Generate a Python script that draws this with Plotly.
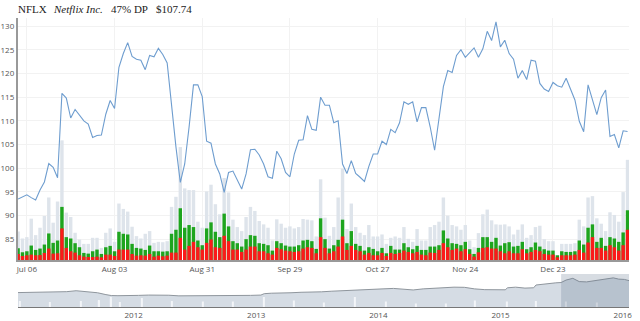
import pandas as pd
import plotly.graph_objects as go

# ---------------- data ----------------
holidays = ["2015-07-03", "2015-09-07", "2015-11-26", "2015-12-25", "2016-01-01", "2016-01-18"]
dates = [d.strftime("%Y-%m-%d") for d in pd.bdate_range("2015-07-01", "2016-01-20")
         if d.strftime("%Y-%m-%d") not in holidays]

price = [93.5, 93.9, 94.4, 93.8, 93.3, 95.4, 97.1, 101.0, 100.2, 98.0,
         115.8, 114.8, 110.6, 112.4, 111.2, 110.0, 109.3, 106.5, 106.9, 107.0,
         111.4, 114.3, 112.6, 121.3, 124.2, 126.5, 123.6, 123.0, 122.8, 120.8,
         123.8, 123.5, 125.3, 124.0, 122.2, 113.0, 104.5, 97.0, 100.9, 108.7,
         117.6, 117.6, 115.1, 105.7, 105.3, 100.9, 98.8, 94.9, 99.1, 99.4,
         97.4, 95.6, 98.8, 103.9, 104.0, 102.8, 100.9, 98.2, 97.9, 103.6,
         102.0, 99.1, 98.2, 103.0, 105.9, 106.0, 111.1, 108.2, 108.0, 115.0,
         113.3, 113.3, 109.6, 110.0, 100.9, 98.9, 101.6, 98.9, 98.1, 97.2,
         100.4, 103.0, 103.0, 105.7, 105.0, 108.2, 107.5, 109.6, 114.0, 113.5,
         114.0, 109.8, 112.8, 112.8, 108.7, 103.8, 110.5, 117.2, 120.6, 120.2,
         123.8, 125.0, 123.4, 124.3, 125.4, 123.4, 125.2, 128.9, 126.95, 130.9,
         125.6, 127.0, 124.2, 123.0, 119.0, 120.6, 118.7, 122.8, 122.6, 117.9,
         116.7, 116.2, 118.1, 117.4, 117.1, 119.0, 116.7, 114.4, 109.9, 107.7,
         117.6, 114.4, 111.3, 114.9, 116.5, 106.7, 107.1, 104.3, 107.9, 107.74]

vol_total = [17.0, 12.8, 13.6, 24.6, 14.8, 19.2, 26.2, 37.2, 22.2, 34.8,
             71.2, 28.2, 25.6, 16.2, 12.2, 9.6, 9.6, 13.2, 13.2, 7.2,
             16.2, 18.8, 10.8, 33.6, 30.4, 28.8, 19.8, 14.2, 12.8, 15.6,
             17.2, 10.2, 10.8, 10.6, 11.2, 31.6, 37.6, 67.2, 42.6, 41.6,
             41.6, 22.8, 19.2, 40.8, 44.8, 33.2, 27.2, 48.8, 40.2, 24.0,
             19.6, 17.2, 25.6, 31.6, 29.2, 23.2, 21.2, 19.2, 11.6, 24.2,
             21.6, 19.2, 20.0, 18.8, 19.6, 24.4, 24.0, 23.6, 14.0, 48.0,
             25.2, 14.4, 19.6, 37.2, 54.4, 18.4, 33.6, 19.6, 16.2, 14.8,
             20.8, 14.0, 14.0, 15.2, 9.6, 13.2, 14.0, 13.2, 19.6, 12.6,
             10.8, 18.4, 11.6, 11.6, 19.6, 20.8, 22.8, 37.2, 26.4, 20.8,
             20.0, 18.0, 20.8, 11.6, 7.6, 16.0, 27.2, 30.0, 23.6, 21.2,
             21.0, 21.2, 20.0, 15.2, 18.0, 21.2, 13.2, 14.8, 19.6, 20.4,
             12.4, 11.2, 11.2, 2.8, 9.6, 9.6, 9.6, 10.0, 24.0, 20.0,
             37.2, 38.0, 24.8, 21.6, 17.2, 28.4, 26.8, 22.8, 40.4, 59.6]

vol_green = [7.0, 4.6, 5.2, 8.6, 6.0, 6.8, 9.2, 15.8, 10.2, 11.6,
             31.6, 13.6, 12.8, 10.0, 7.6, 4.2, 3.8, 5.2, 6.2, 3.6,
             7.6, 8.4, 5.2, 16.8, 15.6, 15.2, 9.6, 7.2, 6.8, 6.0,
             8.6, 5.2, 5.2, 5.0, 5.2, 15.6, 18.0, 30.8, 19.2, 20.8,
             19.6, 11.6, 8.8, 18.8, 22.4, 16.8, 13.6, 27.6, 20.0, 11.2,
             10.0, 8.0, 12.4, 14.8, 14.4, 10.0, 9.6, 8.8, 5.6, 11.2,
             10.0, 8.6, 8.0, 8.0, 8.8, 11.6, 12.0, 11.2, 6.6, 24.8,
             12.4, 6.8, 8.8, 12.0, 24.0, 10.0, 17.2, 9.6, 8.4, 5.6,
             7.6, 6.6, 5.2, 7.2, 4.0, 8.4, 6.2, 6.2, 10.0, 7.6,
             6.4, 8.4, 6.0, 6.0, 8.0, 8.0, 8.8, 17.6, 12.8, 10.0,
             9.6, 8.8, 10.8, 6.4, 3.6, 7.2, 13.6, 13.6, 10.8, 13.2,
             8.6, 10.0, 10.6, 8.0, 8.4, 10.8, 6.4, 7.6, 10.4, 8.0,
             6.4, 5.6, 5.6, 2.8, 5.2, 4.8, 4.8, 5.2, 11.6, 9.2,
             19.2, 21.2, 10.8, 13.2, 8.4, 13.6, 12.8, 10.8, 16.4, 29.6]

vol_red = [3.6, 2.4, 2.8, 3.2, 2.8, 3.0, 4.2, 6.8, 3.8, 4.0,
           18.8, 7.2, 5.2, 4.4, 2.8, 2.0, 1.8, 1.8, 2.0, 1.6,
           3.2, 3.2, 2.4, 6.2, 6.2, 6.2, 3.6, 2.6, 2.8, 2.6,
           3.6, 2.0, 2.6, 2.2, 2.6, 4.4, 4.4, 13.2, 6.2, 8.4,
           10.8, 7.6, 6.2, 10.2, 12.2, 7.6, 7.2, 14.4, 11.2, 6.2,
           6.2, 4.8, 6.2, 8.0, 8.0, 5.2, 5.2, 4.0, 3.2, 7.2,
           6.4, 5.6, 5.2, 4.8, 5.2, 6.8, 7.6, 7.2, 4.0, 13.6,
           7.2, 4.0, 5.2, 8.0, 14.0, 6.0, 8.4, 6.0, 5.2, 3.2,
           4.2, 2.8, 2.8, 4.2, 2.4, 4.2, 3.6, 4.2, 5.6, 4.8,
           4.0, 4.8, 3.2, 2.8, 4.4, 4.2, 6.0, 10.0, 7.6, 6.0,
           6.8, 5.2, 6.4, 3.6, 2.0, 4.6, 7.2, 7.6, 6.8, 6.8,
           5.2, 4.0, 5.2, 4.0, 4.0, 6.4, 4.0, 4.8, 6.0, 5.2,
           3.6, 3.2, 3.2, 1.6, 2.8, 2.8, 2.8, 3.2, 6.0, 4.4,
           10.4, 13.6, 7.2, 7.2, 5.6, 8.8, 7.6, 5.6, 8.8, 18.0]

tick_idx = [2, 22, 42, 62, 82, 102, 122]
tick_text = ["Jul 06", "Aug 03", "Aug 31", "Sep 29", "Oct 27", "Nov 24", "Dec 23"]
price_ticks = [85, 90, 95, 100, 105, 110, 115, 120, 125, 130]

# navigator (5-year overview), monthly closes
nav_dates = ["2011-01-20", "2011-02-15", "2011-03-15", "2011-04-15", "2011-05-15", "2011-06-15",
             "2011-07-13", "2011-08-15", "2011-09-15", "2011-10-10", "2011-10-26", "2011-11-15",
             "2011-12-15", "2012-01-15", "2012-02-15", "2012-03-15", "2012-04-15", "2012-05-15",
             "2012-06-15", "2012-07-15", "2012-08-15", "2012-09-15", "2012-10-15", "2012-11-15",
             "2012-12-15", "2013-01-15", "2013-01-25", "2013-02-15", "2013-03-15", "2013-04-15",
             "2013-05-15", "2013-06-15", "2013-07-15", "2013-08-15", "2013-09-15", "2013-10-15",
             "2013-11-15", "2013-12-15", "2014-01-15", "2014-02-15", "2014-03-15", "2014-04-15",
             "2014-05-15", "2014-06-15", "2014-07-15", "2014-08-15", "2014-09-15", "2014-10-15",
             "2014-11-15", "2014-12-15", "2015-01-15", "2015-01-22", "2015-02-15", "2015-03-15",
             "2015-04-10", "2015-04-17", "2015-05-15", "2015-06-15", "2015-07-01", "2015-07-16",
             "2015-08-05", "2015-08-24", "2015-09-15", "2015-10-15", "2015-11-15", "2015-12-04",
             "2015-12-20", "2016-01-06", "2016-01-20"]
nav_price = [31, 32, 33, 34, 36, 37,
             43, 37, 30, 18, 12, 11,
             10, 13, 15, 16, 14, 10,
             10, 11, 10, 9, 11, 11,
             13, 15, 24, 27, 27, 30,
             33, 33, 36, 40, 44, 47,
             50, 52, 55, 58, 54, 48,
             55, 60, 62, 66, 65, 55,
             50, 50, 49, 62, 66, 60,
             62, 80, 88, 94, 96, 112,
             123, 102, 100, 108, 120, 126,
             118, 116, 108]

# navigator volume spikes (millions of shares)
spike_dates = ["2011-01-27", "2011-04-26", "2011-07-26", "2011-09-19", "2011-09-20",
               "2011-10-25", "2011-10-26", "2011-11-22", "2012-01-26", "2012-04-24",
               "2012-07-25", "2012-10-24", "2013-01-24", "2013-04-23", "2013-07-23",
               "2013-10-22", "2014-01-23", "2014-04-22", "2014-07-22", "2014-10-16",
               "2015-01-21", "2015-04-16", "2015-07-16", "2015-10-15"]
spike_vol = [60, 50, 60, 60, 70,
             100, 80, 50, 90, 60,
             55, 55, 100, 65, 45,
             100, 55, 35, 35, 65,
             55, 60, 55, 45]

# ---------------- figure ----------------
W, H = 640, 321
def px_x(p): return p / W
def px_y(p): return 1 - p / H

fig = go.Figure()
fig.add_trace(go.Bar(x=dates, y=vol_total, marker=dict(color="#dee4eb", line_width=0),
                     xaxis="x", yaxis="y", hoverinfo="skip"))
fig.add_trace(go.Bar(x=dates, y=vol_green, marker=dict(color="#1ea51e", line_width=0),
                     xaxis="x", yaxis="y", hoverinfo="skip"))
fig.add_trace(go.Bar(x=dates, y=vol_red, marker=dict(color="#fb1a1a", line_width=0),
                     xaxis="x", yaxis="y", hoverinfo="skip"))
fig.add_trace(go.Scatter(x=dates, y=price, mode="lines",
                         line=dict(color="#6e9dcf", width=1.1),
                         xaxis="x", yaxis="y2"))

nav_min, nav_max = -62, 151
fig.add_trace(go.Scatter(x=nav_dates, y=[nav_min] * len(nav_dates), mode="lines",
                         line=dict(width=0), xaxis="x2", yaxis="y3", hoverinfo="skip"))
fig.add_trace(go.Scatter(x=nav_dates, y=nav_price, mode="lines", fill="tonexty",
                         fillcolor="#d5dce4", line=dict(color="#8f969d", width=1),
                         xaxis="x2", yaxis="y3", hoverinfo="skip"))
fig.add_trace(go.Bar(x=spike_dates, y=spike_vol, width=[3 * 86400000] * len(spike_dates),
                     marker=dict(color="#f3f5f8", line_width=0),
                     xaxis="x2", yaxis="y4", hoverinfo="skip"))

main_dom_y = [px_y(260), px_y(18)]
nav_dom_y = [px_y(307), px_y(274)]
dom_x = [px_x(16), px_x(632)]

axis_font = dict(family="Open Sans", size=8, color="#555")
fig.update_layout(
    width=W, height=H, margin=dict(l=0, r=0, t=0, b=0),
    paper_bgcolor="white", plot_bgcolor="white",
    showlegend=False, barmode="overlay", bargap=0.22,
    xaxis=dict(domain=dom_x, type="category", range=[-0.05, 139.35],
               tickvals=[dates[i] for i in tick_idx], ticktext=tick_text,
               showgrid=True, gridcolor="#f2f2f2", gridwidth=1,
               showline=True, linecolor="#999", linewidth=2,
               ticks="", tickfont=axis_font, anchor="y", zeroline=False),
    yaxis=dict(domain=main_dom_y, range=[0, 144], visible=False, fixedrange=True),
    yaxis2=dict(overlaying="y", side="left", anchor="x", range=[80.64, 131.70],
                tickvals=price_ticks, showgrid=True, gridcolor="#f2f2f2",
                showline=True, linecolor="#999", linewidth=2, ticks="",
                tickfont=axis_font, zeroline=False),
    xaxis2=dict(domain=dom_x, type="date", range=["2011-01-20", "2016-01-20"],
                anchor="y3", tickvals=["2012-01-01", "2013-01-01", "2014-01-01",
                                        "2015-01-01", "2016-01-01"],
                ticktext=["2012", "2013", "2014", "2015", "2016"],
                showgrid=False, showline=True, linecolor="#777", linewidth=1,
                ticks="", tickfont=axis_font),
    yaxis3=dict(domain=nav_dom_y, range=[nav_min, nav_max], visible=False),
    yaxis4=dict(overlaying="y3", range=[0, 330], visible=False),
)

fig.add_shape(type="rect", xref="x2", yref="paper", x0="2015-07-01", x1="2016-01-20",
              y0=px_y(307), y1=px_y(274), fillcolor="rgba(95,115,140,0.25)",
              line=dict(width=0), layer="above")

serif = "Liberation Serif"
for txt, x, italic in [("NFLX", 14, False), ("Netflix Inc.", 49, True),
                       ("47% DP", 108, False), ("$107.74", 153, False)]:
    fig.add_annotation(text=f"<i>{txt}</i>" if italic else txt, x=px_x(x), y=px_y(9),
                       xref="paper", yref="paper", xanchor="left", yanchor="middle",
                       showarrow=False, font=dict(family=serif, size=11, color="#222"))

fig.write_html("out.html")
